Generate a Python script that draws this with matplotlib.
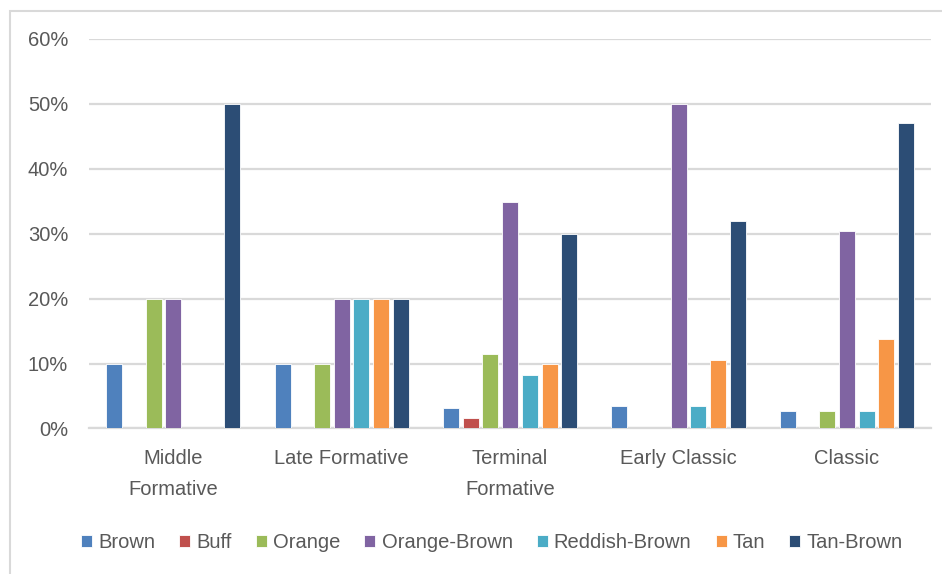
import numpy as np
import matplotlib
matplotlib.use("Agg")
import matplotlib.pyplot as plt
from matplotlib.patches import Rectangle
from matplotlib.ticker import PercentFormatter

periods = ["Middle\nFormative", "Late Formative", "Terminal\nFormative", "Early Classic", "Classic"]

brown = [10, 10, 3.2, 3.5, 2.7]
buff = [0, 0, 1.6, 0, 0]
orange = [20, 10, 11.5, 0, 2.7]
orange_brown = [20, 20, 34.9, 50, 30.4]
reddish_brown = [0, 20, 8.3, 3.5, 2.7]
tan = [0, 20, 10, 10.6, 13.8]
tan_brown = [50, 20, 30, 32, 47.1]

series = [
    ("Brown", brown, "#4F81BD"),
    ("Buff", buff, "#C0504D"),
    ("Orange", orange, "#9BBB59"),
    ("Orange-Brown", orange_brown, "#8064A2"),
    ("Reddish-Brown", reddish_brown, "#4BACC6"),
    ("Tan", tan, "#F79646"),
    ("Tan-Brown", tan_brown, "#2C4D75"),
]

plt.rcParams["font.family"] = ["Liberation Sans", "DejaVu Sans"]
text_color = "#595959"

fig = plt.figure(figsize=(9.42, 5.74), dpi=100)
ax = fig.add_axes([0.0945, 0.2535, 0.894, 0.679])

# chart frame
fig.patches.append(Rectangle((10 / 942, -0.1), 2.0, 1 - 11 / 574 + 0.1,
                             transform=fig.transFigure, fill=False,
                             edgecolor="#D9D9D9", linewidth=1.5, zorder=0))

x = np.arange(len(periods))
step = 0.117
width = 0.095
n = len(series)
for i, (name, vals, col) in enumerate(series):
    offs = (i - (n - 1) / 2) * step
    ax.bar(x + offs, vals, width=width, color=col, label=name,
           edgecolor="white", linewidth=0.6, zorder=3)

ax.set_xlim(-0.5, len(periods) - 0.5)
ax.set_ylim(0, 60)
ax.set_yticks(range(0, 61, 10))
ax.yaxis.set_major_formatter(PercentFormatter(decimals=0))
ax.set_xticks(x)
ax.set_xticklabels(periods, linespacing=1.75)
ax.grid(axis="y", color="#D9D9D9", linewidth=1.6, zorder=0)
for s in ["top", "right", "left"]:
    ax.spines[s].set_visible(False)
ax.spines["bottom"].set_color("#D9D9D9")
ax.spines["bottom"].set_linewidth(1.6)
ax.tick_params(axis="both", length=0, colors=text_color, labelsize=14.5)
ax.tick_params(axis="y", pad=15)
ax.tick_params(axis="x", pad=15)
for lbl in ax.get_xticklabels():
    lbl.set_verticalalignment("top")

leg = fig.legend(loc="center", bbox_to_anchor=(0.522, 0.055), ncol=7, frameon=False,
                 fontsize=14.5, handlelength=0.55, handleheight=0.55, handletextpad=0.3,
                 columnspacing=1.2, labelcolor=text_color)

fig.savefig("out.png", dpi=100)
